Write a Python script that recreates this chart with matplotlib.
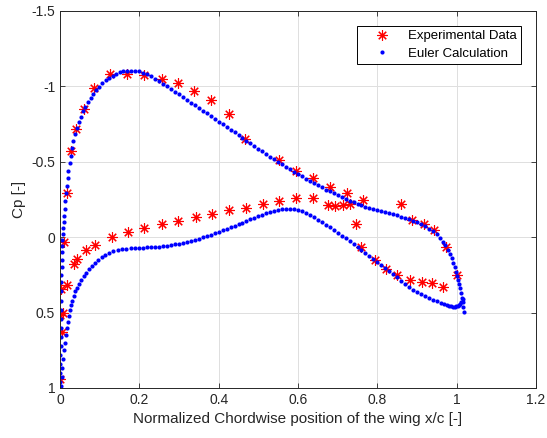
import matplotlib
matplotlib.use("Agg")
import matplotlib.pyplot as plt

plt.rcParams['font.family'] = ['Liberation Sans', 'DejaVu Sans']

# Experimental Cp
exp_x = [0.000, 0.006, 0.000, 0.008, 0.002, 0.018, 0.010,
         0.017, 0.028, 0.040, 0.061, 0.085, 0.126, 0.168, 0.211, 0.256,
         0.298, 0.338, 0.380, 0.425, 0.467, 0.551, 0.594, 0.637, 0.680,
         0.724, 0.763, 0.859, 0.888, 0.918, 0.944, 0.973, 1.000,
         0.035, 0.044, 0.066, 0.088, 0.130, 0.172, 0.212, 0.256, 0.298,
         0.343, 0.383, 0.427, 0.469, 0.511, 0.552, 0.595, 0.637, 0.676,
         0.693, 0.714, 0.731, 0.746, 0.760, 0.794, 0.822, 0.850, 0.882,
         0.912, 0.939, 0.965]
exp_cp = [0.943, 0.630, 0.515, 0.504, 0.346, 0.318, 0.033,
          -0.29, -0.57, -0.72, -0.85, -0.99, -1.08, -1.08, -1.075, -1.05,
          -1.02, -0.97, -0.91, -0.82, -0.65, -0.51, -0.44, -0.39, -0.333,
          -0.29, -0.245, -0.22, -0.115, -0.09, -0.045, 0.063, 0.254,
          0.175, 0.142, 0.088, 0.050, 0.000, -0.032, -0.062, -0.088, -0.105,
          -0.136, -0.157, -0.180, -0.195, -0.222, -0.237, -0.260, -0.260, -0.215,
          -0.210, -0.213, -0.220, -0.090, 0.066, 0.153, 0.208, 0.252, 0.285,
          0.300, 0.307, 0.329]

# Euler calculation, upper surface (leading edge -> trailing edge)
up_x = [0.000, 0.000, 0.001, 0.001, 0.001, 0.002, 0.002, 0.002, 0.002, 0.002,
        0.002, 0.003, 0.003, 0.003, 0.004, 0.004, 0.005, 0.005, 0.006, 0.007,
        0.008, 0.009, 0.010, 0.012, 0.013, 0.015, 0.017, 0.019, 0.021, 0.024,
        0.027, 0.030, 0.034, 0.038, 0.042, 0.047, 0.052, 0.058, 0.064, 0.070,
        0.077, 0.084, 0.091, 0.099, 0.107, 0.115, 0.124, 0.133, 0.142, 0.151,
        0.160, 0.170, 0.180, 0.190, 0.200, 0.210, 0.220, 0.230, 0.240, 0.250,
        0.260, 0.270, 0.280, 0.290, 0.300, 0.310, 0.320, 0.330, 0.340, 0.350,
        0.360, 0.370, 0.380, 0.390, 0.400, 0.410, 0.420, 0.430, 0.440, 0.450,
        0.460, 0.470, 0.480, 0.490, 0.500, 0.510, 0.520, 0.530, 0.540, 0.550,
        0.560, 0.570, 0.580, 0.590, 0.600, 0.610, 0.620, 0.630, 0.640, 0.650,
        0.660, 0.670, 0.680, 0.690, 0.700, 0.710, 0.720, 0.730, 0.740, 0.750,
        0.760, 0.770, 0.780, 0.790, 0.800, 0.810, 0.820, 0.830, 0.840, 0.850,
        0.860, 0.870, 0.880, 0.890, 0.900, 0.910, 0.920, 0.930, 0.940, 0.950,
        0.958, 0.965, 0.971, 0.977, 0.982, 0.987, 0.991, 0.995, 0.998, 1.001,
        1.004, 1.007, 1.009, 1.011, 1.013, 1.015, 1.017, 1.018]
up_cp = [1.000, 0.960, 0.900, 0.840, 0.780, 0.720, 0.660, 0.600, 0.540, 0.480,
         0.420, 0.360, 0.300, 0.250, 0.200, 0.150, 0.100, 0.060, 0.020, -0.020,
         -0.060, -0.100, -0.140, -0.190, -0.240, -0.290, -0.340, -0.390, -0.440, -0.490,
         -0.540, -0.590, -0.640, -0.685, -0.725, -0.765, -0.800, -0.835, -0.865, -0.895,
         -0.925, -0.950, -0.975, -0.998, -1.020, -1.040, -1.057, -1.072, -1.084, -1.093,
         -1.099, -1.103, -1.105, -1.104, -1.099, -1.091, -1.080, -1.067, -1.052, -1.036,
         -1.019, -1.001, -0.983, -0.965, -0.947, -0.929, -0.911, -0.893, -0.875, -0.857,
         -0.839, -0.821, -0.803, -0.785, -0.767, -0.749, -0.731, -0.713, -0.695, -0.677,
         -0.659, -0.641, -0.623, -0.605, -0.587, -0.569, -0.552, -0.535, -0.518, -0.501,
         -0.484, -0.467, -0.451, -0.435, -0.419, -0.403, -0.388, -0.373, -0.358, -0.344,
         -0.330, -0.316, -0.303, -0.290, -0.277, -0.265, -0.253, -0.242, -0.231, -0.221,
         -0.212, -0.203, -0.195, -0.187, -0.180, -0.173, -0.166, -0.159, -0.152, -0.145,
         -0.137, -0.129, -0.120, -0.110, -0.099, -0.087, -0.073, -0.057, -0.039, -0.018,
         0.005, 0.030, 0.055, 0.082, 0.110, 0.140, 0.170, 0.200, 0.228, 0.255,
         0.282, 0.310, 0.340, 0.370, 0.400, 0.430, 0.465, 0.495]

# Euler calculation, lower surface (leading edge -> trailing edge)
lo_x = [0.003, 0.005, 0.006, 0.008, 0.010, 0.012, 0.014, 0.017, 0.019, 0.022,
        0.025, 0.028, 0.031, 0.035, 0.039, 0.044, 0.049, 0.054, 0.060, 0.066,
        0.073, 0.080, 0.088, 0.096, 0.105, 0.114, 0.124, 0.134, 0.145, 0.156,
        0.167, 0.178, 0.189, 0.200, 0.210, 0.220, 0.230, 0.240, 0.250, 0.260,
        0.270, 0.280, 0.290, 0.300, 0.310, 0.320, 0.330, 0.340, 0.350, 0.360,
        0.370, 0.380, 0.390, 0.400, 0.410, 0.420, 0.430, 0.440, 0.450, 0.460,
        0.470, 0.480, 0.490, 0.500, 0.510, 0.520, 0.530, 0.540, 0.550, 0.560,
        0.570, 0.580, 0.590, 0.600, 0.610, 0.620, 0.630, 0.640, 0.650, 0.660,
        0.670, 0.680, 0.690, 0.700, 0.710, 0.720, 0.730, 0.740, 0.750, 0.760,
        0.770, 0.780, 0.790, 0.800, 0.810, 0.820, 0.830, 0.840, 0.850, 0.860,
        0.870, 0.880, 0.890, 0.900, 0.910, 0.920, 0.930, 0.940, 0.950, 0.960,
        0.968, 0.975, 0.981, 0.986, 0.991, 0.995, 0.999, 1.003, 1.006, 1.009,
        1.012, 1.015]
lo_cp = [0.990, 0.930, 0.870, 0.810, 0.750, 0.700, 0.650, 0.600, 0.560, 0.520,
         0.480, 0.450, 0.420, 0.390, 0.360, 0.335, 0.310, 0.285, 0.260, 0.235,
         0.210, 0.190, 0.170, 0.150, 0.132, 0.117, 0.104, 0.094, 0.086, 0.080,
         0.076, 0.073, 0.071, 0.070, 0.069, 0.068, 0.067, 0.065, 0.063, 0.060,
         0.057, 0.053, 0.048, 0.043, 0.038, 0.032, 0.025, 0.018, 0.010, 0.002,
         -0.007, -0.016, -0.025, -0.035, -0.045, -0.055, -0.065, -0.076, -0.086, -0.097,
         -0.107, -0.118, -0.128, -0.138, -0.148, -0.158, -0.167, -0.175, -0.182, -0.187,
         -0.190, -0.190, -0.188, -0.183, -0.175, -0.163, -0.148, -0.132, -0.116, -0.100,
         -0.083, -0.066, -0.048, -0.030, -0.011, 0.008, 0.027, 0.046, 0.065, 0.084,
         0.103, 0.122, 0.142, 0.162, 0.182, 0.203, 0.224, 0.245, 0.267, 0.290,
         0.312, 0.332, 0.350, 0.366, 0.380, 0.393, 0.405, 0.416, 0.426, 0.435,
         0.442, 0.449, 0.454, 0.458, 0.460, 0.461, 0.459, 0.455, 0.449, 0.442,
         0.430, 0.412]

x_ticks = [0, 0.2, 0.4, 0.6, 0.8, 1.0, 1.2]
x_labels = ['0', '0.2', '0.4', '0.6', '0.8', '1', '1.2']
y_ticks = [-1.5, -1, -0.5, 0, 0.5, 1]
y_labels = ['-1.5', '-1', '-0.5', '0', '0.5', '1']

dark = '#262626'

fig = plt.figure(figsize=(5.47, 4.38), dpi=100)
ax = fig.add_axes([0.1097, 0.1142, 0.8702, 0.8607])

ax.plot(exp_x, exp_cp, linestyle='none', marker=(8, 2, 0), markersize=7.5,
        markeredgewidth=0.8, color='#ff0000', label='Experimental Data')
ax.plot(up_x + lo_x, up_cp + lo_cp, linestyle='none', marker='o', markersize=3.0,
        markeredgewidth=0, color='#0000ff', label='Euler Calculation')

ax.set_xlim(0, 1.2)
ax.set_ylim(1, -1.5)
ax.set_xticks(x_ticks)
ax.set_xticklabels(x_labels)
ax.set_yticks(y_ticks)
ax.set_yticklabels(y_labels)

ax.grid(True, color='#dfdfdf', linewidth=0.7)
ax.set_axisbelow(True)
ax.tick_params(direction='in', length=3.5, width=0.6, colors=dark,
               labelsize=10, top=True, right=True, labeltop=False, labelright=False)
for s in ax.spines.values():
    s.set_color(dark)
    s.set_linewidth(0.7)

ax.set_xlabel('Normalized Chordwise position of the wing x/c [-]', fontsize=11, color=dark)
ax.set_ylabel('Cp [-]', fontsize=11, color=dark)

leg = ax.legend(loc='upper right', fontsize=9.5, numpoints=1, fancybox=False,
                framealpha=1, edgecolor='#000000', borderpad=0.35,
                handlelength=3.1, handletextpad=0.4, labelspacing=0.4,
                borderaxespad=1.1, markerscale=1.0)
leg.get_frame().set_linewidth(0.7)

fig.savefig('out.png', dpi=100)
